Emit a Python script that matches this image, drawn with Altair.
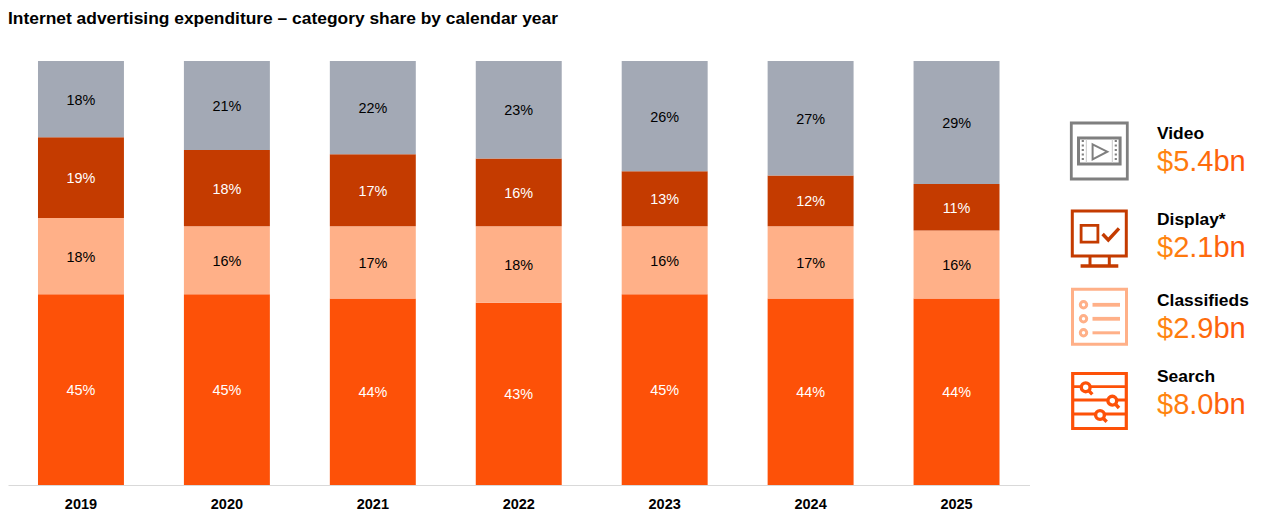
import altair as alt
import pandas as pd

TITLE = "Internet advertising expenditure – category share by calendar year"
FONT = "Liberation Sans"

years = ["2019", "2020", "2021", "2022", "2023", "2024", "2025"]
series = ["Search", "Classifieds", "Display", "Video"]
search = [45, 45, 44, 43, 45, 44, 44]
classifieds = [18, 16, 17, 18, 16, 17, 16]
display = [19, 18, 17, 16, 13, 12, 11]
video = [18, 21, 22, 23, 26, 27, 29]
values = [search, classifieds, display, video]
bar_colors = ["#FD5108", "#FFB088", "#C43B00", "#A3A9B5"]
label_colors = ["#FFFFFF", "#000000", "#FFFFFF", "#000000"]

legend_names = ["Video", "Display*", "Classifieds", "Search"]
legend_amounts = ["$5.4bn", "$2.1bn", "$2.9bn", "$8.0bn"]

rows = []
for order, (name, vals) in enumerate(zip(series, values)):
    for year, v in zip(years, vals):
        rows.append({"year": year, "series": name, "value": v, "order": order,
                     "label": f"{v}%", "textcolor": label_colors[order]})
df = pd.DataFrame(rows)

base = alt.Chart(df).transform_stack(
    stack="value", groupby=["year"], sort=[alt.SortField("order", order="ascending")],
    as_=["y0", "y1"]
).transform_calculate(mid="(datum.y0 + datum.y1) / 2")

x = alt.X("year:N", title=None, sort=years,
          scale=alt.Scale(paddingInner=60 / 146, paddingOuter=30 / 146),
          axis=alt.Axis(labelAngle=0, ticks=False, domainColor="#D9D9D9", domainWidth=1,
                        labelFont=FONT, labelFontSize=14.5, labelFontWeight="bold",
                        labelColor="#000000", labelPadding=12, grid=False))
yscale = alt.Scale(domain=[0, 100], range=[477, 53])

bars = base.mark_bar().encode(
    x=x,
    y=alt.Y("y0:Q", scale=yscale, axis=None),
    y2="y1:Q",
    color=alt.Color("series:N", legend=None,
                    scale=alt.Scale(domain=series, range=bar_colors)),
)
labels = base.mark_text(font=FONT, fontSize=14.4, baseline="middle", dy=1.5).encode(
    x=alt.X("year:N", sort=years),
    y=alt.Y("mid:Q", scale=yscale, axis=None),
    text="label:N",
    color=alt.Color("textcolor:N", scale=None, legend=None),
)

one = pd.DataFrame({"k": [0]})


def text_at(txt, px, py, size, color, weight="normal"):
    return alt.Chart(one).mark_text(text=txt, font=FONT, fontSize=size, fontWeight=weight,
                                    align="left", baseline="middle", color=color).encode(
        x=alt.value(px - 8), y=alt.value(py - 8))


def piece(cx, cy, path, color, width, fill=None):
    kw = {"filled": True, "fill": fill} if fill else {"filled": False}
    return alt.Chart(one).mark_point(shape=path, size=4, stroke=color, strokeWidth=width,
                                     opacity=1, **kw).encode(
        x=alt.value(cx - 8), y=alt.value(cy - 8))


def rect(x0, y0, x1, y1):
    return f"M{x0} {y0}L{x1} {y0}L{x1} {y1}L{x0} {y1}Z"


def line(*pts):
    return "M" + "L".join(f"{a} {b}" for a, b in pts)


def circle(a, b, r):
    return f"M{a - r} {b}A{r} {r} 0 1 0 {a + r} {b}A{r} {r} 0 1 0 {a - r} {b}Z"


GREY, DARK, LIGHT, ORANGE = "#7F7F7F", "#C43B00", "#FFB088", "#FD5108"
icon_layers = []

# Video
c = (1099.3, 151)
icon_layers += [piece(*c, rect(-28, -28, 28, 28), GREY, 2.8),
                piece(*c, rect(-20.8, -13, 20.8, 13), GREY, 3),
                piece(*c, line((-13, -12), (-13, 12)), "#C8C8C8", 1),
                piece(*c, line((13, -12), (13, 12)), "#C8C8C8", 1),
                piece(*c, line((-6.7, -6.7), (8, 0.7), (-6.7, 8.3)) + "Z", GREY, 2)]
for px in (-16.5, 16.5):
    for py in (-10, -5.5, -1, 3.5, 8):
        icon_layers.append(piece(*c, line((px, py - 1), (px, py + 1)), GREY, 2.2))

# Display
c = (1099.3, 239)
icon_layers += [piece(*c, rect(-27, -28, 27, 17), DARK, 3),
                piece(*c, rect(-18.2, -13.6, -1.4, 3.2), DARK, 2.8),
                piece(*c, line((3.3, -5), (9, 1), (19.7, -10.7)), DARK, 3.4),
                piece(*c, line((-9.3, 18), (-9.3, 26)), DARK, 3),
                piece(*c, line((10, 18), (10, 26)), DARK, 3),
                piece(*c, line((-18.7, 27), (19, 27)), DARK, 3.4)]

# Classifieds
c = (1099.5, 316.8)
icon_layers.append(piece(*c, rect(-27, -27.5, 27, 27.5), LIGHT, 3))
for py, w in ((-12, 3.8), (2, 3.8), (16, 3)):
    icon_layers += [piece(*c, circle(-16, py, 3.2), LIGHT, 3),
                    piece(*c, line((-7, py), (20.5, py)), LIGHT, w)]

# Search
c = (1099.5, 401)
icon_layers.append(piece(*c, rect(-26.8, -27.5, 26.8, 27.5), ORANGE, 3.2))
for py in (-14.3, -1, 13):
    icon_layers.append(piece(*c, line((-26, py), (26, py)), ORANGE, 2.8))
for (a, b), (e, f) in (((-13.8, -13.7), (-7.2, -6.7)),
                       ((12.8, -0.3), (19.5, 7)),
                       ((0.5, 14), (7.2, 20.7))):
    icon_layers += [piece(*c, line((a, b), (e, f)), ORANGE, 3.4),
                    piece(*c, circle(a, b, 4.4), ORANGE, 3.4, fill="#FFFFFF")]

amount_fill = alt.LinearGradient(
    gradient="linear", x1=0, x2=1, y1=0, y2=0,
    stops=[alt.GradientStop(offset=0, color="#FF8A10"),
           alt.GradientStop(offset=1, color="#FD5108")])

text_layers = [text_at(TITLE, 8, 18.5, 17.4, "#000000", "bold")]
name_y = [134, 220, 301, 377]
amount_y = [162, 248, 329, 405]
for name, amount, ny, ay in zip(legend_names, legend_amounts, name_y, amount_y):
    text_layers.append(text_at(name, 1157, ny, 17.4, "#000000", "bold"))
    text_layers.append(text_at(amount, 1157, ay, 29, amount_fill))

chart = alt.layer(bars, labels, *icon_layers, *text_layers).properties(
    width=1021.5, height=477, background="#FFFFFF",
    padding={"left": 0, "top": 0, "right": 234, "bottom": 28},
    autosize=alt.AutoSizeParams(type="none"),
).configure_view(strokeWidth=0, stroke="transparent")

chart.save("out.html", embed_options={"renderer": "svg", "actions": False})
